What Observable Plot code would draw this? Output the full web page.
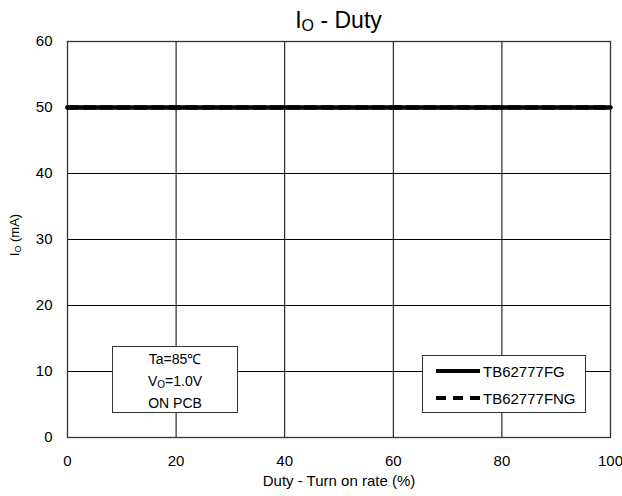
<!DOCTYPE html>
<html>
<head>
<meta charset="utf-8">
<script src="https://cdn.jsdelivr.net/npm/d3@7"></script>
<script src="https://cdn.jsdelivr.net/npm/@observablehq/plot@0.6"></script>
<style>
  html, body { margin: 0; padding: 0; background: white; }
  #wrap { position: relative; width: 622px; height: 496px; font-family: "Liberation Sans", Arial, sans-serif; color: black; }
  #title { position: absolute; left: 67px; width: 543px; top: 7px; text-align: center; font-size: 23px; line-height: 26px; }
  #title sub { font-size: 16px; vertical-align: -3px; line-height: 0; }
  #ylabel { position: absolute; left: 14px; top: 235px; transform: translate(-50%, -50%) rotate(-90deg); font-size: 13px; white-space: nowrap; }
  #ylabel sub { font-size: 9px; vertical-align: -2px; line-height: 0; }
  .box { position: absolute; background: white; border: 1px solid #333; box-sizing: border-box; }
  #note { left: 112px; top: 346px; width: 126px; height: 67px; text-align: center; font-size: 14px; }
  #note div { height: 22px; line-height: 22px; }
  #note div:first-child { margin-top: 1px; }
  #note sub { font-size: 10px; vertical-align: -2px; line-height: 0; }
  #legend { left: 422px; top: 355px; width: 164px; height: 58px; font-size: 15px; }
  #legend .row { position: absolute; left: 0; height: 20px; display: flex; align-items: center; }
  #legend svg { margin-left: 13px; margin-right: 3px; }
</style>
</head>
<body>
<div id="wrap">
  <div id="chart"></div>
  <div id="title">I<sub>O</sub> - Duty</div>
  <div id="ylabel">I<sub>O</sub> (mA)</div>
  <div id="note" class="box"></div>
  <div id="legend" class="box"></div>
</div>
<script>
// ---- data ----
const duty = [0, 100];
const ioFG = [50, 50];
const ioFNG = [50, 50];
const seriesNames = ["TB62777FG", "TB62777FNG"];
const xTicks = [0, 20, 40, 60, 80, 100];
const yTicks = [0, 10, 20, 30, 40, 50, 60];
const xLabel = "Duty - Turn on rate (%)";
const noteLines = ["Ta=85℃", "V<sub>O</sub>=1.0V", "ON PCB"];

const fg = duty.map((d, i) => ({duty: d, io: ioFG[i]}));
const fng = duty.map((d, i) => ({duty: d, io: ioFNG[i]}));

const chart = Plot.plot({
  width: 622,
  height: 496,
  marginLeft: 67,
  marginRight: 12,
  marginTop: 41,
  marginBottom: 59,
  style: {fontFamily: "'Liberation Sans', Arial, sans-serif", fontSize: "15px", color: "black", background: "white", overflow: "visible"},
  x: {domain: [0, 100]},
  y: {domain: [0, 60]},
  marks: [
    Plot.gridX(xTicks, {stroke: "black", strokeOpacity: 1, strokeWidth: 1}),
    Plot.gridY(yTicks, {stroke: "black", strokeOpacity: 1, strokeWidth: 1}),
    Plot.frame({stroke: "#333", strokeWidth: 1.3}),
    Plot.axisX(xTicks, {tickSize: 0, tickPadding: 18, label: null, fontSize: 15}),
    Plot.axisY(yTicks, {tickSize: 0, tickPadding: 15, label: null, fontSize: 15}),
    Plot.lineY(fng, {x: "duty", y: "io", stroke: "black", strokeWidth: 4.5, strokeDasharray: "10,7"}),
    Plot.lineY(fg, {x: "duty", y: "io", stroke: "black", strokeWidth: 4.5}),
    Plot.text([xLabel], {text: d => d, frameAnchor: "bottom", dy: 48, fontSize: 15})
  ]
});
document.getElementById("chart").appendChild(chart);

// annotation box
const note = document.getElementById("note");
noteLines.forEach(t => { const d = document.createElement("div"); d.innerHTML = t; note.appendChild(d); });

// legend
const legend = document.getElementById("legend");
const dashes = [null, "10,7"];
seriesNames.forEach((name, i) => {
  const row = document.createElement("div");
  row.className = "row";
  row.style.top = (5 + i * 27) + "px";
  const sw = d3.create("svg").attr("width", 44).attr("height", 8);
  sw.append("line").attr("x1", 0).attr("x2", 44).attr("y1", 4).attr("y2", 4)
    .attr("stroke", "black").attr("stroke-width", 4)
    .attr("stroke-dasharray", dashes[i]);
  row.appendChild(sw.node());
  const s = document.createElement("span");
  s.textContent = name;
  row.appendChild(s);
  legend.appendChild(row);
});
</script>
</body>
</html>
